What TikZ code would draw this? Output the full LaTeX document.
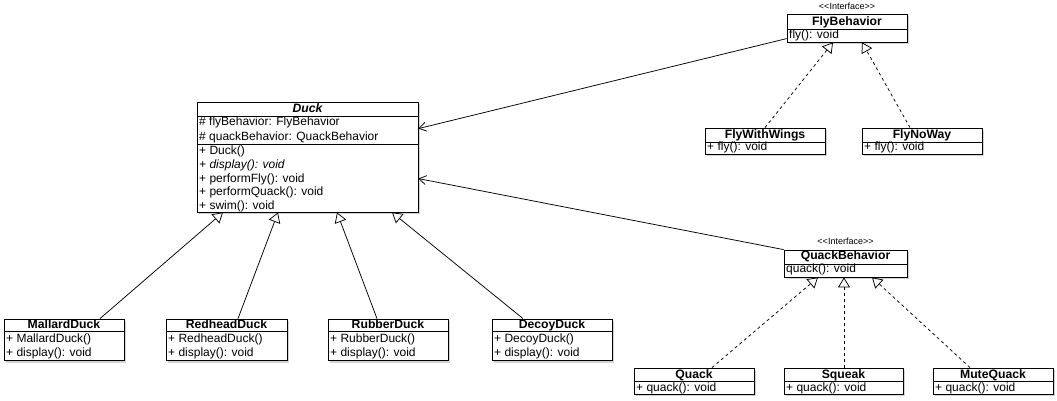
\documentclass[tikz,border=0pt]{standalone}
\usepackage{fontspec}
\setmainfont{Liberation Sans}
\usetikzlibrary{arrows.meta,shadows}

\tikzset{
  classbox/.style={draw, line width=0.8pt, fill=white, inner sep=0pt,
    drop shadow={shadow xshift=2pt, shadow yshift=-2pt, opacity=0.35}},
  ttl/.style={font=\fontsize{12.2}{14}\selectfont\bfseries, inner sep=0pt, anchor=base},
  row/.style={font=\fontsize{12}{14}\selectfont, inner sep=0pt, anchor=base west},
  stereo/.style={font=\fontsize{9}{10}\selectfont, inner sep=0pt, anchor=base},
  divider/.style={line width=0.8pt},
  gen/.style={line width=0.75pt, -{Triangle[length=10pt, width=12pt, fill=white]}},
  real/.style={gen, dash pattern=on 3pt off 3pt},
  assoc/.style={line width=0.75pt, -{Straight Barb[length=7pt, width=9pt]}}
}
% angle brackets kept apart so they are not joined into guillemets
\newcommand{\ifacetag}{<\kern0pt<Interface>\kern0pt>}

\begin{document}
\begin{tikzpicture}[x=1pt, y=-1pt]
\useasboundingbox (0,0) rectangle (1057,401);

% ---------- abstract class Duck ----------
\node[classbox, minimum width=221pt, minimum height=110pt] (duck) at (307.5,157) {};
\node[ttl, font=\fontsize{12.2}{14}\selectfont\bfseries\itshape] (duckT) at (307.5,113) {Duck};
\draw[divider] (197,116) -- (418,116);
\draw[divider] (197,144) -- (418,144);
\node[row] (duckA1) at (199,126) {\# flyBehavior: FlyBehavior};
\node[row] (duckA2) at (199,140) {\# quackBehavior: QuackBehavior};
\node[row] (duckM1) at (199,154) {+ Duck()};
\node[row] (duckM2) at (199,168) {\itshape + display(): void};
\node[row] (duckM3) at (199,182) {+ performFly(): void};
\node[row] (duckM4) at (199,195.5) {+ performQuack(): void};
\node[row] (duckM5) at (199,209) {+ swim(): void};

% ---------- interface FlyBehavior ----------
\node[stereo] (flybS) at (847,10) {\ifacetag};
\node[classbox, minimum width=120pt, minimum height=28pt] (flyb) at (847,28) {};
\node[ttl] (flybT) at (847,26) {FlyBehavior};
\draw[divider] (787,29) -- (907,29);
\node[row] (flybM) at (789,38.5) {fly(): void};

% ---------- FlyWithWings / FlyNoWay ----------
\node[classbox, minimum width=120pt, minimum height=26pt] (fww) at (765,141) {};
\node[ttl] (fwwT) at (765,138.5) {FlyWithWings};
\draw[divider] (705,142) -- (825,142);
\node[row] (fwwM) at (707,150.5) {+ fly(): void};

\node[classbox, minimum width=120pt, minimum height=26pt] (fnw) at (922,141) {};
\node[ttl] (fnwT) at (922,138.5) {FlyNoWay};
\draw[divider] (862,142) -- (982,142);
\node[row] (fnwM) at (864,150.5) {+ fly(): void};

% ---------- interface QuackBehavior ----------
\node[stereo] (qbS) at (845.5,244) {\ifacetag};
\node[classbox, minimum width=123pt, minimum height=27pt] (qb) at (845.5,263.5) {};
\node[ttl] (qbT) at (845.5,259.5) {QuackBehavior};
\draw[divider] (784,264) -- (907,264);
\node[row] (qbM) at (786,272) {quack(): void};

% ---------- Quack / Squeak / MuteQuack ----------
\node[classbox, minimum width=120pt, minimum height=26pt] (quack) at (694,381) {};
\node[ttl] (quackT) at (694,378.5) {Quack};
\draw[divider] (634,381) -- (754,381);
\node[row] (quackM) at (636,391.5) {+ quack(): void};

\node[classbox, minimum width=119pt, minimum height=26pt] (squeak) at (843.5,381) {};
\node[ttl] (squeakT) at (843.5,378.5) {Squeak};
\draw[divider] (784,381) -- (903,381);
\node[row] (squeakM) at (786,391.5) {+ quack(): void};

\node[classbox, minimum width=120pt, minimum height=26pt] (mute) at (993,381) {};
\node[ttl] (muteT) at (993,378.5) {MuteQuack};
\draw[divider] (933,381) -- (1053,381);
\node[row] (muteM) at (935,391.5) {+ quack(): void};

% ---------- concrete ducks ----------
\node[classbox, minimum width=120pt, minimum height=41.5pt] (mallard) at (64,339.75) {};
\node[ttl] (mallardT) at (64,328) {MallardDuck};
\draw[divider] (4,331.5) -- (124,331.5);
\node[row] (mallardM1) at (6,342) {+ MallardDuck()};
\node[row] (mallardM2) at (6,356) {+ display(): void};

\node[classbox, minimum width=121pt, minimum height=41.5pt] (redhead) at (226.5,339.75) {};
\node[ttl] (redheadT) at (226.5,328) {RedheadDuck};
\draw[divider] (166,331.5) -- (287,331.5);
\node[row] (redheadM1) at (168,342) {+ RedheadDuck()};
\node[row] (redheadM2) at (168,356) {+ display(): void};

\node[classbox, minimum width=120pt, minimum height=41.5pt] (rubber) at (388,339.75) {};
\node[ttl] (rubberT) at (388,328) {RubberDuck};
\draw[divider] (328,331.5) -- (448,331.5);
\node[row] (rubberM1) at (330,342) {+ RubberDuck()};
\node[row] (rubberM2) at (330,356) {+ display(): void};

\node[classbox, minimum width=120pt, minimum height=41.5pt] (decoy) at (552,339.75) {};
\node[ttl] (decoyT) at (552,328) {DecoyDuck};
\draw[divider] (492,331.5) -- (612,331.5);
\node[row] (decoyM1) at (494,342) {+ DecoyDuck()};
\node[row] (decoyM2) at (494,356) {+ display(): void};

% ---------- associations ----------
\draw[assoc] ([yshift=-25pt]flyb.north west) -- ([yshift=-27pt]duck.north east);
\draw[assoc] (qb.north west) -- ([yshift=-77pt]duck.north east);

% ---------- generalisations ----------
\draw[gen] ([xshift=36pt]mallard.north) -- ([xshift=-84.5pt]duck.south);
\draw[gen] ([xshift=11.5pt]redhead.north) -- ([xshift=-29.5pt]duck.south);
\draw[gen] ([xshift=-11pt]rubber.north) -- ([xshift=29.5pt]duck.south);
\draw[gen] ([xshift=-29pt]decoy.north) -- ([xshift=84.5pt]duck.south);

% ---------- realisations ----------
\draw[real] (fww.north) -- ([xshift=-14pt]flyb.south);
\draw[real] ([xshift=-12pt]fnw.north) -- ([xshift=15pt]flyb.south);
\draw[real] ([xshift=18pt]quack.north) -- ([xshift=-27.5pt]qb.south);
\draw[real] ([xshift=0.5pt]squeak.north) -- ([xshift=-1.5pt]qb.south);
\draw[real] ([xshift=-23pt]mute.north) -- ([xshift=26.5pt]qb.south);
\end{tikzpicture}
\end{document}
